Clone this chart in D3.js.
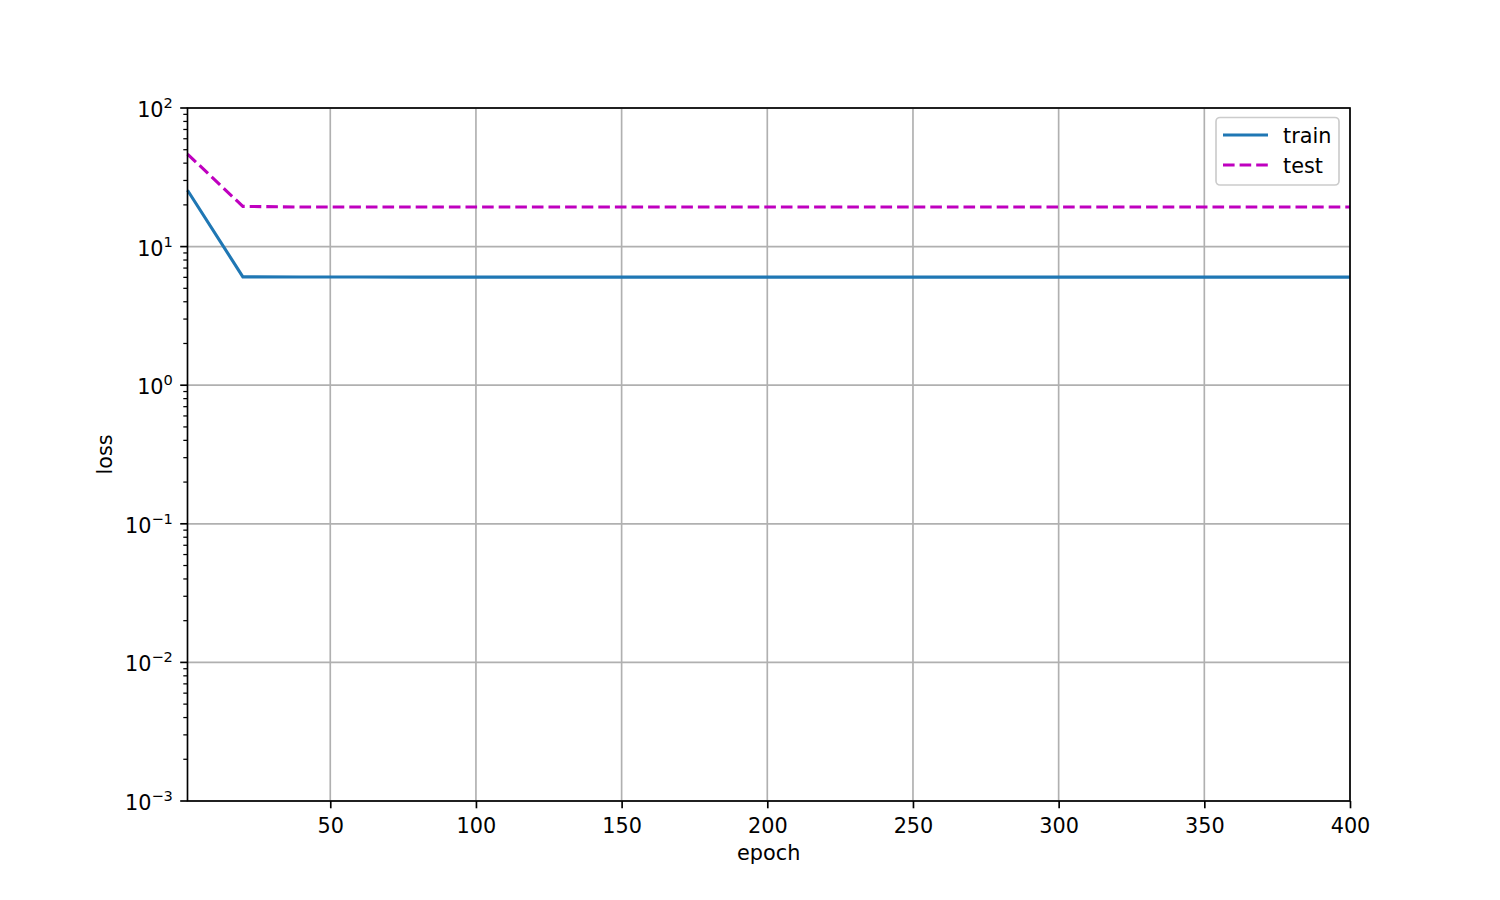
<!DOCTYPE html>
<html>
<head>
<meta charset="utf-8">
<script src="https://cdn.jsdelivr.net/npm/d3@7"></script>
<style>
  body { margin: 0; background: #fff; }
  svg text { font-family: "DejaVu Sans", sans-serif; fill: #000; font-size: 20.8px; }
</style>
</head>
<body>
<div class="chart"></div>
<script>
// data
const epochs = [1, 20, 40, 60, 80, 100, 120, 140, 160, 180, 200, 220, 240, 260, 280, 300, 320, 340, 360, 380, 400];
const trainLoss = [25.5, 6.05, 6.03, 6.03, 6.02, 6.02, 6.02, 6.02, 6.02, 6.02, 6.02, 6.02, 6.02, 6.02, 6.02, 6.02, 6.02, 6.02, 6.02, 6.02, 6.02];
const testLoss = [46.5, 19.5, 19.3, 19.3, 19.3, 19.3, 19.3, 19.3, 19.3, 19.3, 19.3, 19.3, 19.3, 19.3, 19.3, 19.3, 19.3, 19.3, 19.3, 19.3, 19.3];
const xTicks = [50, 100, 150, 200, 250, 300, 350, 400];
const yExponents = [-3, -2, -1, 0, 1, 2];

const width = 1500, height = 900;
const margin = {top: 108, right: 150, bottom: 99, left: 187.5};
const iw = width - margin.left - margin.right;
const ih = height - margin.top - margin.bottom;

const dash = '11.6,5'

const svg = d3.select('.chart')
  .append('svg')
  .attr('width', width)
  .attr('height', height)

const g = svg.append('g').attr('transform', `translate(${margin.left},${margin.top})`)

const x = d3.scaleLinear().domain([1, 400]).range([0, iw])
const y = d3.scaleLog().domain([1e-3, 1e2]).range([ih, 0])

// grid
g.append('g').selectAll('line')
  .data(xTicks)
  .join('line')
  .attr('x1', d => x(d)).attr('x2', d => x(d))
  .attr('y1', 0).attr('y2', ih)
  .attr('stroke', '#b0b0b0').attr('stroke-width', 1.67)

g.append('g').selectAll('line')
  .data(yExponents)
  .join('line')
  .attr('x1', 0).attr('x2', iw)
  .attr('y1', d => y(Math.pow(10, d))).attr('y2', d => y(Math.pow(10, d)))
  .attr('stroke', '#b0b0b0').attr('stroke-width', 1.67)

// x axis
const xAxis = g.append('g')
  .attr('transform', `translate(0,${ih})`)
  .call(d3.axisBottom(x).tickValues(xTicks).tickSize(7.3).tickPadding(7.3).tickFormat(d3.format('d')))
xAxis.attr('font-size', null).attr('font-family', null)
xAxis.select('.domain').remove()
xAxis.selectAll('line').attr('stroke', '#000').attr('stroke-width', 1.67)
xAxis.selectAll('text').attr('dy', '0.84em')

// y axis ticks
const minor = []
for (let e = -3; e < 2; e++) {
  for (let m = 2; m <= 9; m++) minor.push(m * Math.pow(10, e))
}

const yAxis = g.append('g')
yAxis.selectAll('line.minor')
  .data(minor)
  .join('line')
  .attr('class', 'minor')
  .attr('x1', -4.2).attr('x2', 0)
  .attr('y1', d => y(d)).attr('y2', d => y(d))
  .attr('stroke', '#000').attr('stroke-width', 1.25)

yAxis.selectAll('line.major')
  .data(yExponents)
  .join('line')
  .attr('class', 'major')
  .attr('x1', -7.3).attr('x2', 0)
  .attr('y1', d => y(Math.pow(10, d))).attr('y2', d => y(Math.pow(10, d)))
  .attr('stroke', '#000').attr('stroke-width', 1.67)

const yLab = yAxis.selectAll('text')
  .data(yExponents)
  .join('text')
  .attr('x', -14.6)
  .attr('y', d => y(Math.pow(10, d)) + 9)
  .attr('text-anchor', 'end')

yLab.append('tspan').text('10')
yLab.append('tspan')
  .attr('dy', -9)
  .style('font-size', '14.6px')
  .text(d => d < 0 ? '\u2212' + Math.abs(d) : d)

// lines
const line = vals => d3.line()
  .x((d, i) => x(epochs[i]))
  .y(d => y(d))(vals)

g.append('path')
  .attr('d', line(trainLoss))
  .attr('fill', 'none')
  .attr('stroke', '#1f77b4')
  .attr('stroke-width', 3.1)

g.append('path')
  .attr('d', line(testLoss))
  .attr('fill', 'none')
  .attr('stroke', '#bf00bf')
  .attr('stroke-width', 3.1)
  .attr('stroke-dasharray', dash)

// frame
g.append('rect')
  .attr('width', iw).attr('height', ih)
  .attr('fill', 'none')
  .attr('stroke', '#000')
  .attr('stroke-width', 1.67)

// axis labels
svg.append('text')
  .attr('x', margin.left + iw / 2)
  .attr('y', 860)
  .attr('text-anchor', 'middle')
  .text('epoch')

svg.append('text')
  .attr('transform', `translate(112,${margin.top + ih / 2}) rotate(-90)`)
  .attr('text-anchor', 'middle')
  .text('loss')

// legend
const legend = svg.append('g').attr('transform', 'translate(1216,117.5)')
legend.append('rect')
  .attr('width', 123).attr('height', 67.5)
  .attr('rx', 4)
  .attr('fill', '#fff').attr('fill-opacity', 0.8)
  .attr('stroke', '#cccccc').attr('stroke-width', 1.67)

const items = [
  {name: 'train', color: '#1f77b4', dash: null},
  {name: 'test', color: '#bf00bf', dash: dash}
]

items.forEach((d, i) => {
  const yy = 17.5 + i * 30
  legend.append('line')
    .attr('x1', 7).attr('x2', 52)
    .attr('y1', yy).attr('y2', yy)
    .attr('stroke', d.color)
    .attr('stroke-width', 3.1)
    .attr('stroke-dasharray', d.dash)
  legend.append('text')
    .attr('x', 67).attr('y', yy + 7.5)
    .text(d.name)
})
</script>
</body>
</html>
